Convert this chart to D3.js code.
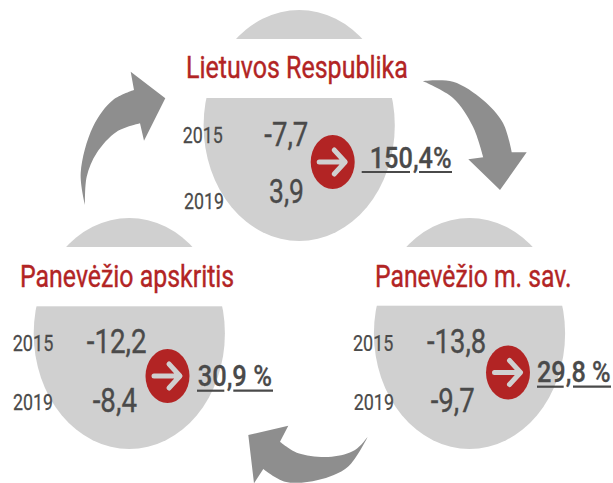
<!DOCTYPE html>
<html><head><meta charset="utf-8">
<script src="https://cdn.jsdelivr.net/npm/d3@7"></script>
<style>html,body{margin:0;padding:0;background:#fff}svg{display:block}text{font-family:Roboto,sans-serif}</style>
</head><body><svg id="c" width="613" height="483"></svg>
<script>
// DATA
const categories = ["Lietuvos Respublika", "Panevėžio m. sav.", "Panevėžio apskritis"];
const years = [2015, 2019];
const values2015 = [-7.7, -13.8, -12.2];
const values2019 = [3.9, -9.7, -8.4];
const changes = [150.4, 29.8, 30.9];
const changeSuffix = ["%", " %", " %"];

// LAYOUT (separate from data)
const layout = d3.scaleOrdinal().domain(categories).range([
  { cx:299.2, cy:125.5, band:[39,98], title:[186,222,78],
    yr:[[182.7,40,142.7],[184,40,208.7]], val:[[264.3,44,145.7],[269,35,203.3]],
    rc:[332.7,162], ch:[369.7,82,167.7], ul:[172,361.7,410,419,452] },
  { cx:469.5, cy:333.5, band:[247,305.7], title:[375,196.5,286.7],
    yr:[[353,40.3,350.7],[353.7,40.3,410]], val:[[427,59.3,353.3],[430.7,44,412]],
    rc:[508,372.5], ch:[537,73.7,381.7], ul:[386.7,537,563.7,573,611] },
  { cx:129.3, cy:333.5, band:[247,306.3], title:[20,214.3,286.7],
    yr:[[12.7,40.6,350.7],[13,40,410]], val:[[86.7,60,353.3],[92.7,44.3,412]],
    rc:[167.5,376], ch:[197.7,74.3,385.7], ul:[390.7,197,224.3,233.3,273] }
]);
const arrows = [
  { outer:[[85,205],[80.7,173],[93,126.7],[113,100],[134,90]],
    head:[[130.7,71.7],[165.3,98.3],[144,140.7]],
    inner:[[140,123.3],[116.7,131.7],[96.7,153],[86.7,176.7],[85,205]] },
  { outer:[[422.7,81],[453,81.7],[483,100],[503,123],[511.7,152.3]],
    head:[[526.7,152.3],[500,190],[468.3,159.3]],
    inner:[[483.3,157.3],[473,126.7],[453,98],[422.7,81]] },
  { outer:[[367.7,436.7],[348,466.7],[318,480],[285,481.7],[263.3,469]],
    head:[[254,483.3],[248.3,435],[288.3,425.7]],
    inner:[[280,441.7],[298.3,453.3],[331.7,456.7],[355,450],[367.7,436.7]] }
];
const RX=95.6, RY=115.5, GREY="#d0d0d0", RED="#b22424", INK="#4a4a4a", ARROW="#8e8e8e";

const fmt = d3.formatLocale({decimal:",",thousands:" ",grouping:[3],currency:["",""],minus:"-"}).format(".1f");
const svg = d3.select("#c");
const pts = categories.map((name,i)=>({name,i,l:layout(name)}));

svg.selectAll("ellipse.blob").data(pts).join("ellipse").attr("class","blob")
  .attr("cx",d=>d.l.cx).attr("cy",d=>d.l.cy).attr("rx",RX).attr("ry",RY).attr("fill",GREY);
svg.selectAll("rect.band").data(pts).join("rect").attr("class","band")
  .attr("x",d=>d.l.cx-RX-2).attr("width",2*RX+4)
  .attr("y",d=>d.l.band[0]).attr("height",d=>d.l.band[1]-d.l.band[0]).attr("fill","#fff");

const curve = d3.line().curve(d3.curveCatmullRom);
svg.selectAll("path.cycle").data(arrows).join("path").attr("class","cycle").attr("fill",ARROW)
  .attr("d",a=>curve(a.outer)+"L"+a.head.map(p=>p.join(",")).join("L")+"L"+curve(a.inner).slice(1)+"Z");

// Text is condensed by a horizontal scale so it fills the measured width.
function put(g,str,spec,size,weight,fill,halo){
  const t=g.append("text").attr("font-size",size).attr("font-weight",weight)
    .attr("fill",fill).attr("stroke",fill).attr("stroke-width",halo)
    .style("white-space","pre").text(str);
  const natural=t.node().getComputedTextLength();
  t.attr("transform",`translate(${spec[0]},${spec[2]}) scale(${spec[1]/natural},1)`);
}
pts.forEach(d=>{
  const g = svg.append("g"), l=d.l;
  put(g,d.name,l.title,30.5,400,RED,0.4);
  years.forEach((y,k)=>{
    put(g,String(y),l.yr[k],21.5,400,INK,0.25);
    put(g,fmt(k===0?values2015[d.i]:values2019[d.i]),l.val[k],33.5,400,INK,0.35);
  });
  g.append("ellipse").attr("cx",l.rc[0]).attr("cy",l.rc[1]).attr("rx",22).attr("ry",27).attr("fill",RED);
  const p=d3.path(), [x,y]=l.rc;
  p.moveTo(x-13.5,y); p.lineTo(x+12,y);
  p.moveTo(x+1.5,y-12); p.lineTo(x+12.5,y); p.lineTo(x+1.5,y+12);
  g.append("path").attr("d",p.toString()).attr("fill","none").attr("stroke",GREY)
   .attr("stroke-width",5).attr("stroke-linecap","round").attr("stroke-linejoin","round");
  put(g,fmt(changes[d.i])+changeSuffix[d.i],l.ch,30,500,INK,0.3);
  const u=l.ul;
  [[u[1],u[2]],[u[3],u[4]]].forEach(s=>g.append("line").attr("x1",s[0]).attr("x2",s[1])
    .attr("y1",u[0]).attr("y2",u[0]).attr("stroke",INK).attr("stroke-width",2.2));
});
</script></body></html>
